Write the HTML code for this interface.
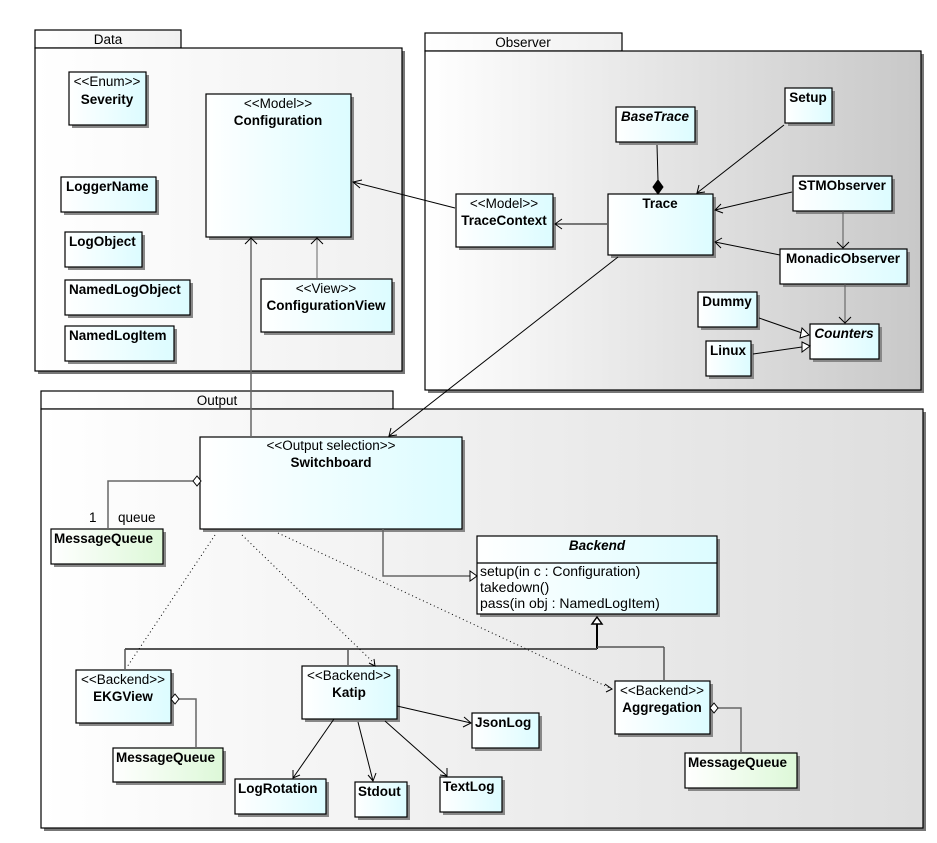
<!DOCTYPE html>
<html><head><meta charset="utf-8"><style>
html,body{margin:0;padding:0;background:#fff}
svg{display:block}
text{font-family:"Liberation Sans",Arial,sans-serif;font-size:13.5px;fill:#000}
.b{font-weight:bold}
.i{font-style:italic;font-weight:bold}
.m{font-size:14px}
</style></head><body>
<svg width="937" height="843" viewBox="0 0 937 843" xmlns="http://www.w3.org/2000/svg">
<defs>
<linearGradient id="pk" x1="0" x2="1" y1="0" y2="0"><stop offset="0" stop-color="#fff"/><stop offset="1" stop-color="#f0f0f0"/></linearGradient>
<linearGradient id="pkg" x1="0" x2="1" y1="0" y2="0"><stop offset="0" stop-color="#fff"/><stop offset="1" stop-color="#c8c8c8"/></linearGradient>
<linearGradient id="pko" x1="0" x2="1" y1="0" y2="0"><stop offset="0" stop-color="#fff"/><stop offset="1" stop-color="#dedede"/></linearGradient>
<linearGradient id="cl" x1="0" x2="1" y1="0" y2="0"><stop offset="0" stop-color="#fff"/><stop offset="1" stop-color="#dcfcff"/></linearGradient>
<linearGradient id="gr" x1="0" x2="1" y1="0" y2="0"><stop offset="0" stop-color="#fff"/><stop offset="1" stop-color="#ddf8d8"/></linearGradient>
</defs>
<g stroke="#000" stroke-width="1.2">
<rect x="38" y="51" width="367" height="323" fill="#777" stroke="none"/>
<rect x="35" y="30" width="146" height="18" fill="url(#pk)"/>
<rect x="35" y="48" width="367" height="323" fill="url(#pk)"/>
<rect x="428" y="54" width="496" height="339" fill="#777" stroke="none"/>
<rect x="425" y="33" width="197" height="18" fill="url(#pk)"/>
<rect x="425" y="51" width="496" height="339" fill="url(#pkg)"/>
<rect x="44" y="412" width="882" height="419" fill="#777" stroke="none"/>
<rect x="41" y="391" width="352" height="18" fill="url(#pk)"/>
<rect x="41" y="409" width="882" height="419" fill="url(#pko)"/>
</g>
<text x="108" y="44" text-anchor="middle">Data</text>
<text x="523" y="47" text-anchor="middle">Observer</text>
<text x="217" y="405" text-anchor="middle">Output</text>

<g stroke="#000" stroke-width="1.2">
<g fill="#888" stroke="none">
<rect x="72" y="75" width="77" height="53"/><rect x="209" y="97" width="145" height="143"/>
<rect x="64" y="180" width="95" height="35"/><rect x="68" y="235" width="77" height="35"/>
<rect x="68" y="283" width="125" height="35"/><rect x="68" y="329" width="109" height="35"/>
<rect x="264" y="282" width="131" height="53"/><rect x="459" y="197" width="97" height="53"/>
<rect x="611" y="197" width="105" height="61"/><rect x="619" y="110" width="79" height="35"/>
<rect x="788" y="91" width="47" height="35"/><rect x="796" y="179" width="99" height="35"/>
<rect x="783" y="252" width="127" height="35"/><rect x="701" y="295" width="59" height="35"/>
<rect x="709" y="344" width="45" height="35"/><rect x="813" y="327" width="69" height="35"/>
<rect x="203" y="440" width="262" height="92"/><rect x="54" y="532" width="112" height="35"/>
<rect x="480" y="539" width="240" height="78"/><rect x="79" y="673" width="95" height="53"/>
<rect x="305" y="669" width="95" height="53"/><rect x="618" y="684" width="95" height="53"/>
<rect x="116" y="751" width="110" height="34"/><rect x="688" y="756" width="112" height="35"/>
<rect x="475" y="716" width="67" height="35"/><rect x="238" y="782" width="91" height="35"/>
<rect x="358" y="785" width="52" height="35"/><rect x="443" y="780" width="62" height="35"/>
</g>
<g fill="url(#cl)">
<rect x="69" y="72" width="77" height="53"/><rect x="206" y="94" width="145" height="143"/>
<rect x="61" y="177" width="95" height="35"/><rect x="65" y="232" width="77" height="35"/>
<rect x="65" y="280" width="125" height="35"/><rect x="65" y="326" width="109" height="35"/>
<rect x="261" y="279" width="131" height="53"/><rect x="456" y="194" width="97" height="53"/>
<rect x="608" y="194" width="105" height="61"/><rect x="616" y="107" width="79" height="35"/>
<rect x="785" y="88" width="47" height="35"/><rect x="793" y="176" width="99" height="35"/>
<rect x="780" y="249" width="127" height="35"/><rect x="698" y="292" width="59" height="35"/>
<rect x="706" y="341" width="45" height="35"/><rect x="810" y="324" width="69" height="35"/>
<rect x="200" y="437" width="262" height="92"/>
<rect x="477" y="536" width="240" height="78"/><rect x="76" y="670" width="95" height="53"/>
<rect x="302" y="666" width="95" height="53"/><rect x="615" y="681" width="95" height="53"/>
<rect x="472" y="713" width="67" height="35"/><rect x="235" y="779" width="91" height="35"/>
<rect x="355" y="782" width="52" height="35"/><rect x="440" y="777" width="62" height="35"/>
</g>
<g fill="url(#gr)">
<rect x="51" y="529" width="112" height="35"/><rect x="113" y="748" width="110" height="34"/><rect x="685" y="753" width="112" height="35"/>
</g>
<line x1="477" y1="563" x2="717" y2="563"/>
</g>

<text x="107" y="86" text-anchor="middle">&lt;&lt;Enum&gt;&gt;</text><text class="b" x="107" y="104" text-anchor="middle">Severity</text>
<text x="278" y="108" text-anchor="middle">&lt;&lt;Model&gt;&gt;</text><text class="b" x="278" y="125" text-anchor="middle">Configuration</text>
<text class="b" x="66" y="191">LoggerName</text>
<text class="b" x="69" y="246">LogObject</text>
<text class="b" x="69" y="294">NamedLogObject</text>
<text class="b" x="69" y="340">NamedLogItem</text>
<text x="326" y="293" text-anchor="middle">&lt;&lt;View&gt;&gt;</text><text class="b" x="326" y="310" text-anchor="middle">ConfigurationView</text>
<text x="504" y="208" text-anchor="middle">&lt;&lt;Model&gt;&gt;</text><text class="b" x="504" y="225" text-anchor="middle">TraceContext</text>
<text class="b" x="660" y="208" text-anchor="middle">Trace</text>
<text class="i" x="655" y="121" text-anchor="middle">BaseTrace</text>
<text class="b" x="808" y="102" text-anchor="middle">Setup</text>
<text class="b" x="842" y="190" text-anchor="middle">STMObserver</text>
<text class="b" x="843" y="263" text-anchor="middle">MonadicObserver</text>
<text class="b" x="727" y="306" text-anchor="middle">Dummy</text>
<text class="b" x="728" y="355" text-anchor="middle">Linux</text>
<text class="i" x="844" y="338" text-anchor="middle">Counters</text>
<text x="331" y="450" text-anchor="middle">&lt;&lt;Output selection&gt;&gt;</text><text class="b" x="331" y="467" text-anchor="middle">Switchboard</text>
<text class="b" x="54" y="543">MessageQueue</text>
<text x="89" y="522">1</text><text x="118" y="522">queue</text>
<text class="i" x="597" y="550" text-anchor="middle">Backend</text>
<text class="m" x="480" y="576">setup(in c : Configuration)</text>
<text class="m" x="480" y="592">takedown()</text>
<text class="m" x="480" y="608">pass(in obj : NamedLogItem)</text>
<text x="123" y="684" text-anchor="middle">&lt;&lt;Backend&gt;&gt;</text><text class="b" x="123" y="701" text-anchor="middle">EKGView</text>
<text x="349" y="680" text-anchor="middle">&lt;&lt;Backend&gt;&gt;</text><text class="b" x="349" y="697" text-anchor="middle">Katip</text>
<text x="662" y="695" text-anchor="middle">&lt;&lt;Backend&gt;&gt;</text><text class="b" x="662" y="712" text-anchor="middle">Aggregation</text>
<text class="b" x="116" y="762">MessageQueue</text>
<text class="b" x="688" y="767">MessageQueue</text>
<text class="b" x="475" y="727">JsonLog</text>
<text class="b" x="238" y="793">LogRotation</text>
<text class="b" x="358" y="796">Stdout</text>
<text class="b" x="443" y="791">TextLog</text>

<g fill="none" stroke="#000" stroke-width="1">
<line x1="455" y1="208" x2="353" y2="182"/><polyline points="362,180 353,182 360,188"/>
<line x1="251" y1="437" x2="251" y2="238" stroke="#666" stroke-width="1.5"/><polyline points="245,244 251,238 257,244"/>
<line x1="317" y1="279" x2="317" y2="238" stroke="#666"/><polyline points="311,244 317,238 323,244"/>
<line x1="607" y1="224" x2="555" y2="224"/><polyline points="562,219 555,224 562,229"/>
<line x1="657" y1="145" x2="658" y2="180"/>
<polygon points="658,180 663,187 658,194 653,187" fill="#000"/>
<line x1="784" y1="125" x2="697" y2="193"/><polyline points="699,185 697,193 705,192"/>
<line x1="792" y1="192" x2="715" y2="210"/><polyline points="721,204 715,210 723,213"/>
<line x1="780" y1="255" x2="715" y2="242"/><polyline points="722,238 715,242 721,248"/>
<line x1="843" y1="211" x2="843" y2="248" stroke="#555"/><polyline points="837,242 843,248 849,242"/>
<line x1="845" y1="284" x2="845" y2="323" stroke="#555"/><polyline points="839,317 845,323 851,317"/>
<line x1="759" y1="318" x2="802" y2="333"/><polygon points="802,328 809,335 800,338" fill="#fff"/>
<line x1="753" y1="354" x2="802" y2="347"/><polygon points="802,342 810,346 802,352" fill="#fff"/>
<line x1="618" y1="257" x2="389" y2="436"/><polyline points="391,428 389,436 397,435"/>
<polyline points="193,481 108,481 108,529" stroke="#666" stroke-width="1.5"/>
<polygon points="193,481 197,476 201,481 197,486" fill="#fff"/>
<polyline points="383,529 383,576 470,576" stroke="#666" stroke-width="1.5"/>
<polygon points="470,571 477,576 470,581" fill="#fff"/>
<polygon points="597,617 602,624 592,624" fill="#fff" stroke-width="1.5"/>
<line x1="597" y1="624" x2="597" y2="649" stroke-width="2"/>
<line x1="125" y1="649" x2="597" y2="649" stroke="#555" stroke-width="2"/>
<line x1="597" y1="647" x2="664" y2="647" stroke="#555" stroke-width="1.5"/>
<polyline points="125,649 125,669" stroke="#555" stroke-width="1.5"/>
<line x1="348" y1="649" x2="348" y2="665" stroke="#555" stroke-width="1.5"/>
<line x1="664" y1="647" x2="664" y2="680" stroke="#555" stroke-width="1.5"/>
<g stroke-dasharray="1,3">
<line x1="215" y1="535" x2="127" y2="667"/>
<line x1="242" y1="535" x2="376" y2="665"/>
<line x1="278" y1="533" x2="612" y2="689"/>
</g>
<polyline points="369,663 375,666 374,659"/>
<polyline points="605,684 612,689 606,692"/>
<polyline points="178,699 196,699 196,748" stroke="#666" stroke-width="1.5"/>
<polygon points="171,699 175,694 179,699 175,704" fill="#fff"/>
<polyline points="718,708 741,708 741,753" stroke="#666" stroke-width="1.5"/>
<polygon points="710,708 714,703 718,708 714,713" fill="#fff"/>
<line x1="334" y1="719" x2="293" y2="778"/><polyline points="293,770 293,778 300,775"/>
<line x1="358" y1="722" x2="373" y2="781"/><polyline points="368,775 373,781 376,773"/>
<line x1="385" y1="721" x2="447" y2="776"/><polyline points="440,775 447,776 447,768"/>
<line x1="397" y1="706" x2="471" y2="723"/><polyline points="464,717 471,723 463,727"/>
</g>
</svg>
</body></html>
